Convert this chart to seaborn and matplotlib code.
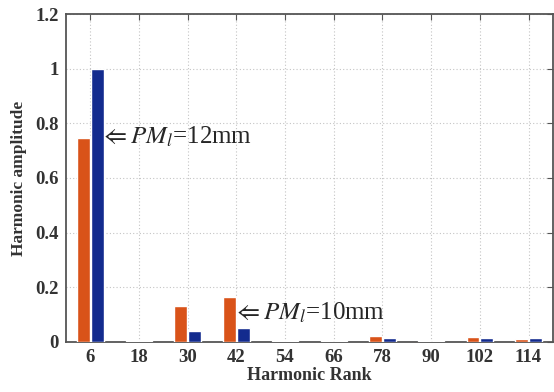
import numpy as np
import pandas as pd
import seaborn as sns
import matplotlib.pyplot as plt

# harmonic ranks and amplitudes for the two magnet lengths
ranks = ['6', '18', '30', '42', '54', '66', '78', '90', '102', '114']
amp_10mm = [0.748, 0.003, 0.133, 0.165, 0.003, 0.003, 0.023, 0.003, 0.016, 0.011]
amp_12mm = [1.0, 0.003, 0.041, 0.052, 0.003, 0.003, 0.013, 0.003, 0.014, 0.013]
y_ticks = [0, 0.2, 0.4, 0.6, 0.8, 1, 1.2]
y_tick_labels = ['0', '0.2', '0.4', '0.6', '0.8', '1', '1.2']

df = pd.DataFrame({
    'rank': ranks * 2,
    'amp': amp_10mm + amp_12mm,
    'case': ['10mm'] * len(ranks) + ['12mm'] * len(ranks),
})

sns.set_style('white')
plt.rcParams['font.family'] = ['Liberation Serif', 'DejaVu Serif']
plt.rcParams['mathtext.fontset'] = 'stix'

fig = plt.figure(figsize=(5.54, 3.92), dpi=100)
ax = fig.add_axes([0.119, 0.128, 0.879, 0.836])

sns.barplot(data=df, x='rank', y='amp', hue='case', order=ranks,
            palette=['#D95319', '#132B8E'], width=0.56, gap=0.06,
            saturation=1, legend=False, ax=ax, zorder=3)

ax.set_xlim(-0.5, 9.5)
ax.set_ylim(0, 1.2)
ax.set_yticks(y_ticks)
ax.set_yticklabels(y_tick_labels)
ax.grid(True, linestyle=(0, (1, 2)), color='#c4c4c4', linewidth=0.8, zorder=0)
ax.set_axisbelow(True)
ax.tick_params(direction='in', top=True, right=True, length=4,
               color='#555555', labelsize=13.5, pad=5)
for lbl in ax.get_xticklabels() + ax.get_yticklabels():
    lbl.set_fontweight('bold')
    lbl.set_color('#333333')
for s in ax.spines.values():
    s.set_color('#555555')
    s.set_linewidth(1.3)

ax.set_xlabel('Harmonic Rank', fontsize=13, fontweight='bold', color='#333333',
              labelpad=1)
ax.set_ylabel('Harmonic amplitude', fontsize=12.5, fontweight='bold',
              color='#333333', labelpad=6)

ax.text(0.2, 0.75, r'$\Leftarrow PM_l$=12mm', fontsize=18, va='center',
        ha='left', zorder=5)
ax.text(2.93, 0.106, r'$\Leftarrow PM_l$=10mm', fontsize=18, va='center',
        ha='left', zorder=5)

fig.savefig('out.png', dpi=100)
